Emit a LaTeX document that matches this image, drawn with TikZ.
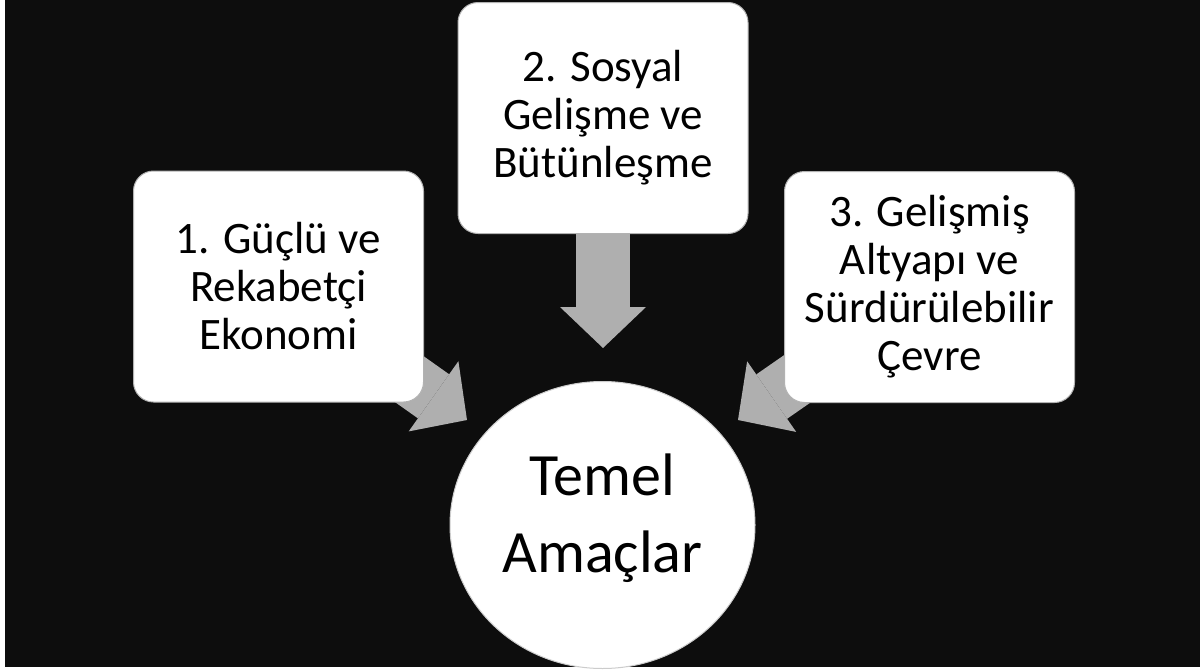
\documentclass[tikz,border=0pt]{standalone}
\usepackage{fontspec}
\setmainfont{Carlito}
\usetikzlibrary{arrows.meta,shapes.geometric,backgrounds}
\definecolor{bgblack}{HTML}{0D0D0D}
\definecolor{arrowgray}{HTML}{AFAFAF}

\begin{document}
\begin{tikzpicture}[x=1pt,y=-1pt,
	goalbox/.style={draw=gray!60,line width=1pt,fill=white,rounded corners=20pt,
		minimum width=290pt,minimum height=231pt,align=center,
		font=\fontsize{45}{48}\selectfont},
	goal/.style={ellipse,draw=gray!40,line width=1pt,fill=white,minimum width=305pt,
		minimum height=287pt},
	goaltext/.style={align=center,font=\fontsize{60}{77}\selectfont},
	bigarrow/.style={draw=arrowgray,line width=54pt,
		-{Triangle[length=41pt,width=86pt,line width=0pt]}}]
		\useasboundingbox (0,0) rectangle (1200,672);
		% the three goals
		\node[goalbox] (eko) at (278.5,286.5) {1. Güçlü ve\\Rekabetçi\\Ekonomi};
		\node[goalbox] (sos) at (603,118) {2. Sosyal\\Gelişme ve\\Bütünleşme};
		\node[goalbox] (cev) at (929.5,287) {3. Gelişmiş\\Altyapı ve\\Sürdürülebilir\\Çevre};
		\node[goal] (amac) at (602.5,525) {};
		\node[goaltext] (amactext) at (602.5,518) {Temel\\Amaçlar};
		% arrow tips stop short of the circle
		\coordinate (tipl) at (467,420);
		\coordinate (tipm) at (603,348);
		\coordinate (tipr) at (738,420);
		\begin{scope}[on background layer]
			\fill[white] (0,0) rectangle (1200,672);
			\fill[bgblack] (5,0) rectangle (1200,667);
			\draw[bigarrow] (eko.center) -- (tipl);
			\draw[bigarrow] (sos.center) -- (tipm);
			\draw[bigarrow] (cev.center) -- (tipr);
		\end{scope}
	\end{tikzpicture}
\end{document}
